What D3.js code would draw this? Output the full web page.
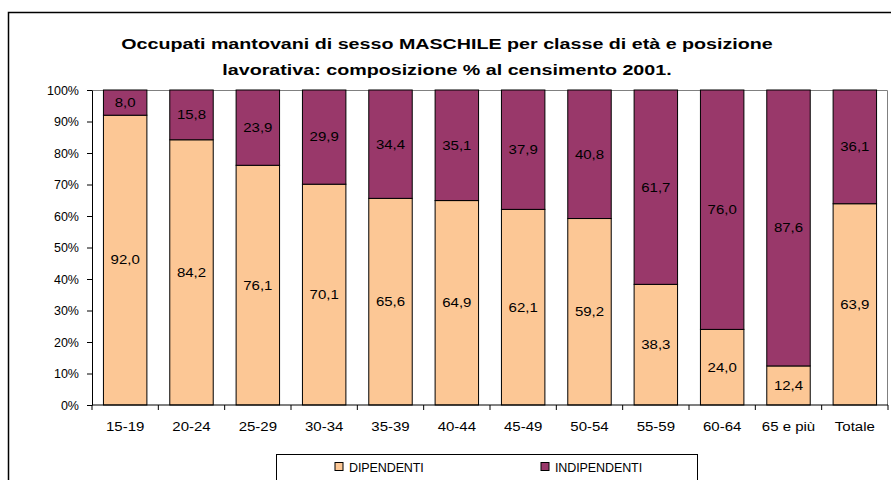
<!DOCTYPE html>
<html>
<head>
<meta charset="utf-8">
<script src="https://cdn.jsdelivr.net/npm/d3@7"></script>
<style>
  html, body { margin: 0; padding: 0; background: #fff; }
  svg { display: block; font-family: "Liberation Sans", Arial, sans-serif; }
</style>
</head>
<body>
<svg id="chart" width="891" height="480"></svg>
<script>
// Age classes (plus the overall total)
const categories = ["15-19", "20-24", "25-29", "30-34", "35-39", "40-44", "45-49", "50-54", "55-59", "60-64", "65 e più", "Totale"];
// Percent composition by employment position
const dipendenti   = [92.0, 84.2, 76.1, 70.1, 65.6, 64.9, 62.1, 59.2, 38.3, 24.0, 12.4, 63.9];
const indipendenti = [ 8.0, 15.8, 23.9, 29.9, 34.4, 35.1, 37.9, 40.8, 61.7, 76.0, 87.6, 36.1];
const seriesNames = ["DIPENDENTI", "INDIPENDENTI"];
const seriesColors = ["#FCC795", "#99386A"];
const yTicks = [0, 10, 20, 30, 40, 50, 60, 70, 80, 90, 100];
const titleLines = [
  "Occupati mantovani di sesso MASCHILE per classe di età e posizione",
  "lavorativa: composizione % al censimento 2001."
];

const svg = d3.select("#chart");
const plot = { left: 92, right: 888, top: 90, bottom: 405 };

// Places a text at (x, y) with a slightly widened typeface
function placeWide(sel, fx, fy, sx) {
  sel.attr("transform", (d, i) => `translate(${fx(d, i)},${fy(d, i)}) scale(${sx},1)`);
}

// Outer chart frame
svg.append("rect")
  .attr("x", 8.5).attr("y", 12.5)
  .attr("width", 1000).attr("height", 600)
  .attr("fill", "none").attr("stroke", "#000").attr("stroke-width", 1.5);

// Title
const title = svg.append("g").selectAll("text").data(titleLines).join("text")
  .attr("text-anchor", "middle")
  .attr("font-size", 15.5).attr("font-weight", "bold")
  .attr("fill", "#000")
  .text(d => d);
placeWide(title, () => 447, (d, i) => 49 + i * 26, 1.27);

const x = d3.scaleBand().domain(categories).range([plot.left, plot.right]).paddingInner(0.345).paddingOuter(0.1725);
const xTickScale = d3.scalePoint().domain(d3.range(categories.length + 1)).range([plot.left, plot.right]);
const y = d3.scaleLinear().domain([0, 100]).range([plot.bottom, plot.top]);

// Plot area border (top and right)
svg.append("path")
  .attr("d", `M${plot.left},${plot.top + 0.5}H${plot.right - 0.5}V${plot.bottom}`)
  .attr("fill", "none").attr("stroke", "#808080").attr("stroke-width", 1);

// Stack the two series
const rows = categories.map((c, i) => ({ cat: c, DIPENDENTI: dipendenti[i], INDIPENDENTI: indipendenti[i] }));
const stacked = d3.stack().keys(seriesNames)(rows);

const layers = svg.append("g").selectAll("g").data(stacked).join("g")
  .attr("fill", (d, i) => seriesColors[i]);

layers.selectAll("rect").data(d => d).join("rect")
  .attr("x", d => x(d.data.cat))
  .attr("width", x.bandwidth())
  .attr("y", d => y(d[1]))
  .attr("height", d => y(d[0]) - y(d[1]))
  .attr("stroke", "#000").attr("stroke-width", 1);

// Value labels, centred in each segment
const valueLabels = layers.selectAll("text").data(d => d.map(v => ({ v, key: d.key }))).join("text")
  .attr("dy", "0.35em")
  .attr("text-anchor", "middle")
  .attr("font-size", 12.5).attr("fill", "#000")
  .text(d => d3.format(".1f")(d.v.data[d.key]).replace(".", ","));
placeWide(valueLabels, d => x(d.v.data.cat) + x.bandwidth() / 2, d => (y(d.v[0]) + y(d.v[1])) / 2, 1.2);

// Y axis
const yAxis = d3.axisLeft(y).tickValues(yTicks).tickFormat(d => d + "%").tickSize(5).tickSizeOuter(0);
const gy = svg.append("g").attr("transform", `translate(${plot.left},0)`).call(yAxis);
gy.select(".domain").attr("stroke", "#000");
gy.selectAll(".tick line").attr("stroke", "#000");
gy.selectAll(".tick text").attr("font-size", 12.5).attr("fill", "#000").attr("x", -13)
  .attr("font-family", "'Liberation Sans', Arial, sans-serif");

// X axis: ticks at band boundaries, labels centred in bands
const gx = svg.append("g").attr("transform", `translate(0,${plot.bottom})`);
gx.append("line").attr("x1", plot.left).attr("x2", plot.right).attr("stroke", "#000");
gx.selectAll("line.tk").data(d3.range(categories.length + 1)).join("line")
  .attr("class", "tk")
  .attr("x1", d => xTickScale(d)).attr("x2", d => xTickScale(d))
  .attr("y1", 0).attr("y2", 5).attr("stroke", "#000");
const xLabels = gx.selectAll("text").data(categories).join("text")
  .attr("text-anchor", "middle")
  .attr("font-size", 12).attr("fill", "#000")
  .text(d => d);
placeWide(xLabels, d => x(d) + x.bandwidth() / 2, () => 25.5, 1.25);

// Legend
const legend = svg.append("g");
legend.append("rect")
  .attr("x", 276.5).attr("y", 454.5).attr("width", 421).attr("height", 60)
  .attr("fill", "#fff").attr("stroke", "#000").attr("stroke-width", 1);
const legendX = [335, 541];
const items = legend.selectAll("g").data(seriesNames).join("g")
  .attr("transform", (d, i) => `translate(${legendX[i]},462)`);
items.append("rect")
  .attr("width", 8).attr("height", 8).attr("y", 0.5)
  .attr("fill", (d, i) => seriesColors[i]).attr("stroke", "#000").attr("stroke-width", 1);
items.append("text")
  .attr("x", 14).attr("y", 9.5)
  .attr("font-size", 12.5).attr("letter-spacing", -0.1).attr("fill", "#000")
  .text(d => d);
</script>
</body>
</html>
